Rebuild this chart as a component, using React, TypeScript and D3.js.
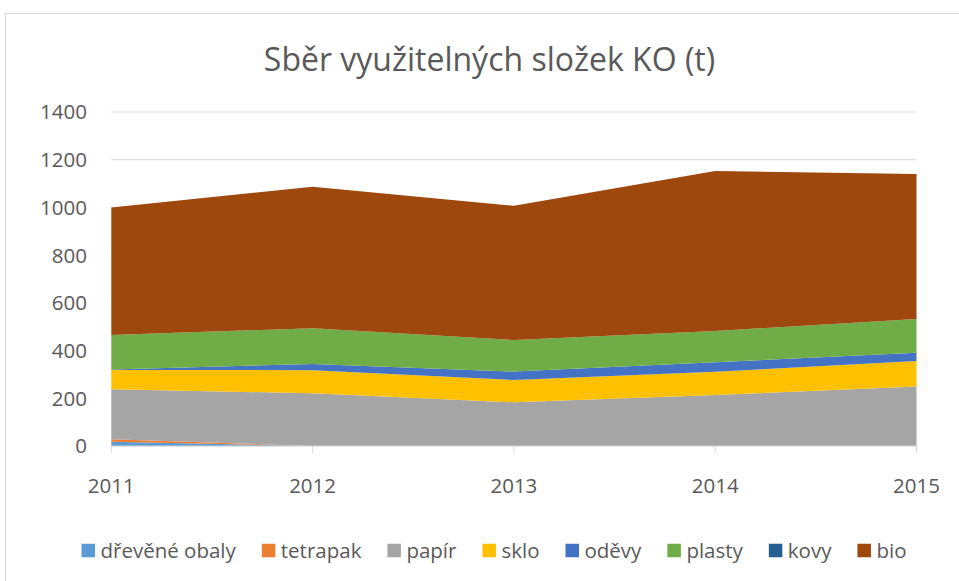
import React from "react";
import * as d3 from "d3";

const years = [2011, 2012, 2013, 2014, 2015];
const seriesKeys = ["dřevěné obaly", "tetrapak", "papír", "sklo", "oděvy", "plasty", "kovy", "bio"];
const drevene = [18, 0, 0, 0, 0];
const tetrapak = [10, 0, 0, 0, 0];
const papir = [210, 221, 183, 214, 249];
const sklo = [81, 97, 94, 97, 107];
const odevy = [2, 26, 35, 40, 35];
const plasty = [144, 150, 132, 131, 141];
const kovy = [0, 0, 0, 0, 0];
const bio = [535, 593, 563, 671, 608];
const yTicks = [0, 200, 400, 600, 800, 1000, 1200, 1400];
const colors = ["#5B9BD5", "#ED7D31", "#A5A5A5", "#FFC000", "#4472C4", "#70AD47", "#255E91", "#9E480E"];
const title = "Sběr využitelných složek KO (t)";

const seriesValues = [drevene, tetrapak, papir, sklo, odevy, plasty, kovy, bio];

const FONT = "'Open Sans', sans-serif";
const TEXT = "#595959";

function measure(text: string, size: number): number {
  const c = document.createElement("canvas").getContext("2d");
  if (!c) return text.length * size * 0.5;
  c.font = `${size}px 'Open Sans'`;
  return c.measureText(text).width;
}

export default function App() {
  const W = 959, H = 581;
  const left = 111.3, right = 916.5, top = 112, bottom = 446;

  const rows = years.map((y, i) => {
    const r: any = { year: y };
    seriesKeys.forEach((k, j) => (r[k] = seriesValues[j][i]));
    return r;
  });

  const x = d3.scaleLinear().domain([years[0], years[years.length - 1]]).range([left, right]);
  const y = d3.scaleLinear().domain([0, 1400]).range([bottom, top]);
  const stack = d3.stack<any>().keys(seriesKeys)(rows);
  const area = d3
    .area<any>()
    .x((d) => x(d.data.year))
    .y0((d) => y(d[0]))
    .y1((d) => y(d[1]));

  // legend layout
  const legSize = 20.5;
  const marker = 13.5;
  const gapMT = 5.5;
  const gapItem = 26;
  const widths = seriesKeys.map((k) => measure(k, legSize));
  const total = widths.reduce((a, w) => a + marker + gapMT + w, 0) + gapItem * (seriesKeys.length - 1);
  let cx = 494 - total / 2;
  const legendItems = seriesKeys.map((k, i) => {
    const item = { key: k, x: cx, color: colors[i] };
    cx += marker + gapMT + widths[i] + gapItem;
    return item;
  });
  const legY = 550.5;

  return (
    <svg width={W} height={H} style={{ position: "absolute", left: 0, top: 0, background: "#fff" }}>
      <rect x={5.5} y={13.5} width={980} height={600} fill="#fff" stroke="#d9d9d9" strokeWidth={1} />
      <text x={489.5} y={71} textAnchor="middle" fontFamily={FONT} fontSize={32} fill={TEXT}>
        {title}
      </text>
      {yTicks.map((t) => (
        <g key={t}>
          <line x1={left} x2={right} y1={y(t)} y2={y(t)} stroke="#d9d9d9" strokeWidth={1} />
          <text x={87} y={y(t)} dy="0.36em" textAnchor="end" fontFamily={FONT} fontSize={20.5} fill={TEXT}>
            {t}
          </text>
        </g>
      ))}
      {stack.map((s, i) => (
        <path key={s.key} d={area(s) || ""} fill={colors[i]} />
      ))}
      <line x1={left} x2={right} y1={bottom} y2={bottom} stroke="#d9d9d9" strokeWidth={1} />
      {years.map((yr) => (
        <g key={yr}>
          <line x1={x(yr)} x2={x(yr)} y1={bottom} y2={bottom + 7} stroke="#d9d9d9" strokeWidth={1} />
          <text x={x(yr)} y={493} textAnchor="middle" fontFamily={FONT} fontSize={20.5} fill={TEXT}>
            {yr}
          </text>
        </g>
      ))}
      {legendItems.map((it) => (
        <g key={it.key}>
          <rect x={it.x} y={legY - marker / 2} width={marker} height={marker} fill={it.color} />
          <text x={it.x + marker + gapMT} y={legY} dy="0.36em" fontFamily={FONT} fontSize={legSize} fill={TEXT}>
            {it.key}
          </text>
        </g>
      ))}
    </svg>
  );
}
